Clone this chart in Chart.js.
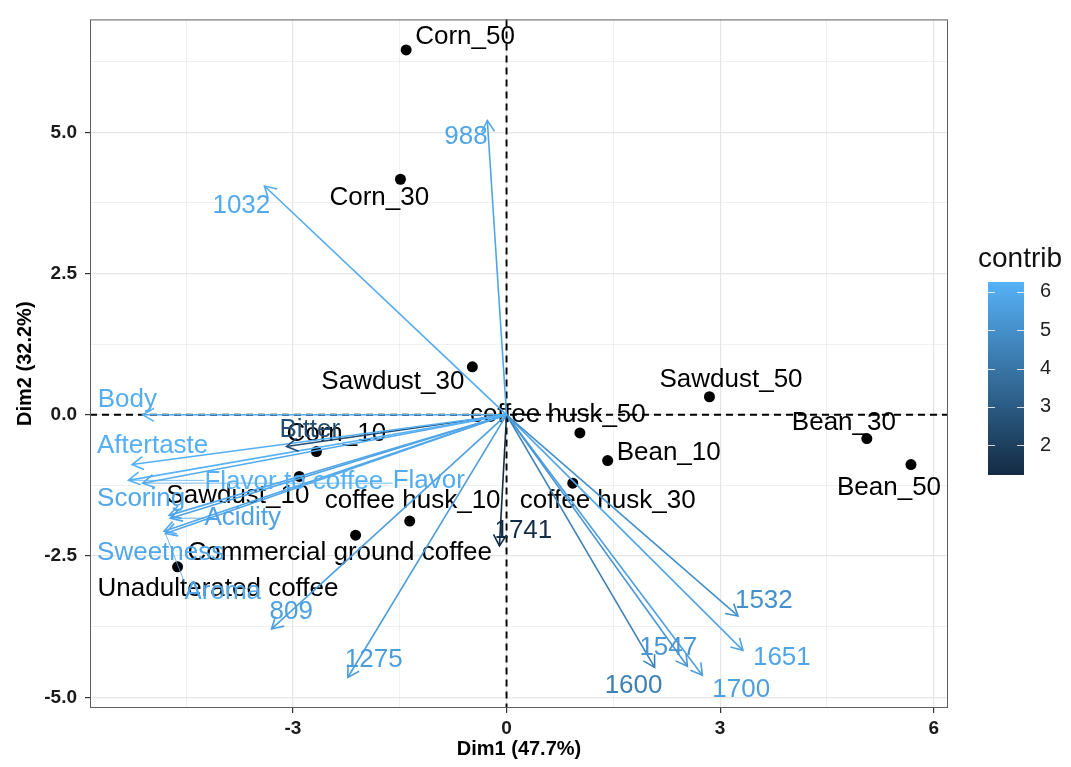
<!DOCTYPE html>
<html>
<head>
<meta charset="utf-8">
<title>PCA biplot</title>
<script src="https://cdn.jsdelivr.net/npm/chart.js@4.4.0/dist/chart.umd.min.js"></script>
<style>
    html, body { margin: 0; padding: 0; background: #fff; }
    #wrap { width: 1071px; height: 767px; }
</style>
</head>
<body>
<div id="wrap"><canvas id="biplot" width="1071" height="767"></canvas></div>
<script>
// individuals (black points)
const indNames = ["Corn_50", "Corn_30", "Sawdust_30", "Sawdust_50", "Bean_30", "Bean_50", "Bean_10",
    "coffee husk_50", "coffee husk_30", "coffee husk_10", "Commercial ground coffee",
    "Unadulterated coffee", "Sawdust_10", "Corn_10"];
const indX = [-1.41, -1.49, -0.48, 2.85, 5.06, 5.68, 1.42, 1.03, 0.93, -1.36, -2.12, -4.62, -2.91, -2.67];
const indY = [6.46, 4.17, 0.85, 0.32, -0.42, -0.88, -0.81, -0.32, -1.21, -1.88, -2.13, -2.69, -1.09, -0.65];

// variables (arrows)
const varNames = ["Body", "Aftertaste", "Flavor to coffee", "Flavor", "Scoring", "Acidity", "Sweetness",
    "Aroma", "Bitter", "988", "1032", "809", "1275", "1741", "1532", "1651", "1547", "1600", "1700"];
const varX = [-5.11, -5.26, -5.31, -5.11, -4.74, -4.72, -4.81, -4.79, -3.09, -0.27, -3.40, -3.30, -2.23, -0.10, 3.25, 3.32, 2.54, 2.08, 2.75];
const varY = [0.00, -0.88, -1.16, -1.21, -1.78, -1.83, -2.06, -2.10, -0.56, 5.21, 4.05, -3.79, -4.65, -2.32, -3.56, -4.17, -4.45, -4.47, -4.61];
const varContrib = [6.1, 6.2, 6.26, 6.0, 5.9, 5.7, 5.9, 5.9, 2.5, 5.8, 6.0, 5.6, 5.5, 1.3, 5.0, 5.8, 5.25, 4.4, 5.6];

// axis ticks
const xTicks = [-4.5, -3, -1.5, 0, 1.5, 3, 4.5, 6];
const xMajor = [-3, 0, 3, 6];
const yTicks = [-5, -3.75, -2.5, -1.25, 0, 1.25, 2.5, 3.75, 5, 6.25];
const yMajor = [-5, -2.5, 0, 2.5, 5];
const contribTicks = [2, 3, 4, 5, 6];
const contribMin = 1.22;
const contribMax = 6.26;

// label placement (pixel offsets from the point / arrow tip, repel-like)
const indLabelOffset = [[9, -13], [-71, 19], [-151, 15], [-50, -17], [-75, -16], [-74, 23], [9, -8],
    [-110, -18], [-53, 18], [-85, -20], [-168, 18], [-80, 22], [-133, 19], [-30, -18]];
const varLabelOffset = [[-45, -15], [-35, -19], [76, 1], [250, -2], [-72, -17], [34, 0], [-67, 22],
    [19, 58], [-7, -17], [-43, 16], [-52, 20], [-2, -17], [-3, -18], [-5, -15], [-3, -15], [10, 7],
    [-48, -18], [-50, 19], [10, 15]];

const FONT = '"Liberation Sans", Arial, Helvetica, sans-serif';

function contribColor(v) {
    let t = (v - contribMin) / (contribMax - contribMin);
    t = Math.max(0, Math.min(1, t));
    const lo = [19, 43, 67], hi = [86, 177, 247];
    const c = lo.map((l, i) => Math.round(l + (hi[i] - l) * t));
    return `rgb(${c[0]}, ${c[1]}, ${c[2]})`;
}

const biplotPlugin = {
    id: "biplot",
    beforeDatasetsDraw(chart) {
        const { ctx, chartArea: a, scales: { x, y } } = chart;
        const x0 = x.getPixelForValue(0), y0 = y.getPixelForValue(0);
        ctx.save();
        ctx.strokeStyle = "#000";
        ctx.lineWidth = 1.9;
        ctx.setLineDash([7, 5]);
        ctx.beginPath();
        ctx.moveTo(a.left, y0); ctx.lineTo(a.right, y0);
        ctx.moveTo(x0, a.top); ctx.lineTo(x0, a.bottom);
        ctx.stroke();
        ctx.setLineDash([]);

        // individual labels
        ctx.font = "26px " + FONT;
        ctx.fillStyle = "#000";
        ctx.textAlign = "left";
        ctx.textBaseline = "middle";
        indNames.forEach((name, i) => {
            const px = x.getPixelForValue(indX[i]) + indLabelOffset[i][0];
            const py = y.getPixelForValue(indY[i]) + indLabelOffset[i][1];
            ctx.fillText(name, px, py);
        });
        ctx.restore();
    },
    afterDatasetsDraw(chart) {
        const { ctx, scales: { x, y } } = chart;
        const ox = x.getPixelForValue(0), oy = y.getPixelForValue(0);
        ctx.save();
        ctx.font = "26px " + FONT;
        ctx.textAlign = "left";
        ctx.textBaseline = "middle";
        varNames.forEach((name, i) => {
            const color = contribColor(varContrib[i]);
            const tx = x.getPixelForValue(varX[i]), ty = y.getPixelForValue(varY[i]);
            const ang = Math.atan2(ty - oy, tx - ox);
            const len = 13;

            // open arrow head
            ctx.strokeStyle = color;
            ctx.lineWidth = 1.6;
            ctx.beginPath();
            ctx.moveTo(tx - len * Math.cos(ang - Math.PI / 6), ty - len * Math.sin(ang - Math.PI / 6));
            ctx.lineTo(tx, ty);
            ctx.lineTo(tx - len * Math.cos(ang + Math.PI / 6), ty - len * Math.sin(ang + Math.PI / 6));
            ctx.stroke();

            // label (+ segment if it was pushed away)
            const lx = tx + varLabelOffset[i][0], ly = ty + varLabelOffset[i][1];
            const w = ctx.measureText(name).width;
            const nx = Math.max(lx, Math.min(lx + w, tx));
            const ny = Math.max(ly - 9, Math.min(ly + 9, ty));
            if (Math.hypot(nx - tx, ny - ty) > 20) {
                ctx.lineWidth = 0.8;
                ctx.beginPath();
                ctx.moveTo(nx, ny);
                ctx.lineTo(tx, ty);
                ctx.stroke();
            }
            ctx.fillStyle = color;
            ctx.fillText(name, lx, ly);
        });
        ctx.restore();
    },
    afterDraw(chart) {
        const { ctx, chartArea: a } = chart;
        ctx.save();
        // panel border
        ctx.strokeStyle = "#5e5e5e";
        ctx.lineWidth = 1;
        ctx.strokeRect(a.left + 0.5, a.top + 0.5, a.right - a.left - 1, a.bottom - a.top - 1);

        // colour bar legend
        const bx = 988, by = 282, bw = 36, bh = 193;
        const valToY = v => by + (contribMax - v) / (contribMax - contribMin) * bh;
        const grad = ctx.createLinearGradient(0, by + bh, 0, by);
        for (let k = 0; k <= 10; k++) {
            grad.addColorStop(k / 10, contribColor(contribMin + (contribMax - contribMin) * k / 10));
        }
        ctx.fillStyle = grad;
        ctx.fillRect(bx, by, bw, bh);

        ctx.strokeStyle = "rgba(255,255,255,0.8)";
        ctx.lineWidth = 1;
        ctx.font = "20px " + FONT;
        ctx.fillStyle = "#222";
        ctx.textAlign = "left";
        ctx.textBaseline = "middle";
        contribTicks.forEach(v => {
            const ty = Math.round(valToY(v)) + 0.5;
            ctx.beginPath();
            ctx.moveTo(bx, ty); ctx.lineTo(bx + 7, ty);
            ctx.moveTo(bx + bw - 7, ty); ctx.lineTo(bx + bw, ty);
            ctx.stroke();
            ctx.fillText(String(v), bx + bw + 16, valToY(v));
        });

        ctx.font = "28px " + FONT;
        ctx.fillStyle = "#111";
        ctx.fillText("contrib", 978, 259);
        ctx.restore();
    }
};

const datasets = varNames.map((name, i) => ({
    label: name,
    data: [{ x: 0, y: 0 }, { x: varX[i], y: varY[i] }],
    showLine: true,
    borderColor: contribColor(varContrib[i]),
    borderWidth: 1.6,
    pointRadius: 0,
    pointHoverRadius: 0,
    fill: false
}));

datasets.push({
    label: "individuals",
    data: indX.map((v, i) => ({ x: v, y: indY[i] })),
    showLine: false,
    pointRadius: 5.5,
    pointBackgroundColor: "#000",
    pointBorderWidth: 0
});

new Chart(document.getElementById("biplot"), {
    type: "scatter",
    data: { datasets: datasets },
    plugins: [biplotPlugin],
    options: {
        responsive: false,
        animation: false,
        layout: { padding: { top: 15, right: 123, left: 0, bottom: 0 } },
        plugins: {
            legend: { display: false },
            tooltip: { enabled: false }
        },
        scales: {
            x: {
                type: "linear",
                min: -5.85,
                max: 6.2,
                afterBuildTicks: scale => { scale.ticks = xTicks.map(v => ({ value: v })); },
                afterFit: scale => { scale.height = 59; },
                border: { display: false },
                grid: {
                    color: "#e6e6e6",
                    lineWidth: ctx => xMajor.includes(ctx.tick.value) ? 1.2 : 0.6,
                    tickColor: ctx => xMajor.includes(ctx.tick.value) ? "#333" : "rgba(0,0,0,0)",
                    tickLength: 5
                },
                ticks: {
                    autoSkip: false,
                    maxRotation: 0,
                    padding: 4,
                    color: "#1a1a1a",
                    font: { family: FONT, size: 19, weight: "bold" },
                    callback: v => xMajor.includes(v) ? String(v) : ""
                },
                title: {
                    display: true,
                    text: "Dim1 (47.7%)",
                    color: "#000",
                    font: { family: FONT, size: 20, weight: "bold" },
                    padding: { top: 0, bottom: 6 }
                }
            },
            y: {
                type: "linear",
                min: -5.19,
                max: 7.0,
                afterBuildTicks: scale => { scale.ticks = yTicks.map(v => ({ value: v })); },
                afterFit: scale => { scale.width = 90; },
                border: { display: false },
                grid: {
                    color: "#e6e6e6",
                    lineWidth: ctx => yMajor.includes(ctx.tick.value) ? 1.2 : 0.6,
                    tickColor: ctx => yMajor.includes(ctx.tick.value) ? "#333" : "rgba(0,0,0,0)",
                    tickLength: 5
                },
                ticks: {
                    autoSkip: false,
                    padding: 8,
                    color: "#1a1a1a",
                    font: { family: FONT, size: 19, weight: "bold" },
                    callback: v => yMajor.includes(v) ? v.toFixed(1) : ""
                },
                title: {
                    display: true,
                    text: "Dim2 (32.2%)",
                    color: "#000",
                    font: { family: FONT, size: 20, weight: "bold" },
                    padding: { top: 13, bottom: 0 }
                }
            }
        }
    }
});
</script>
</body>
</html>
